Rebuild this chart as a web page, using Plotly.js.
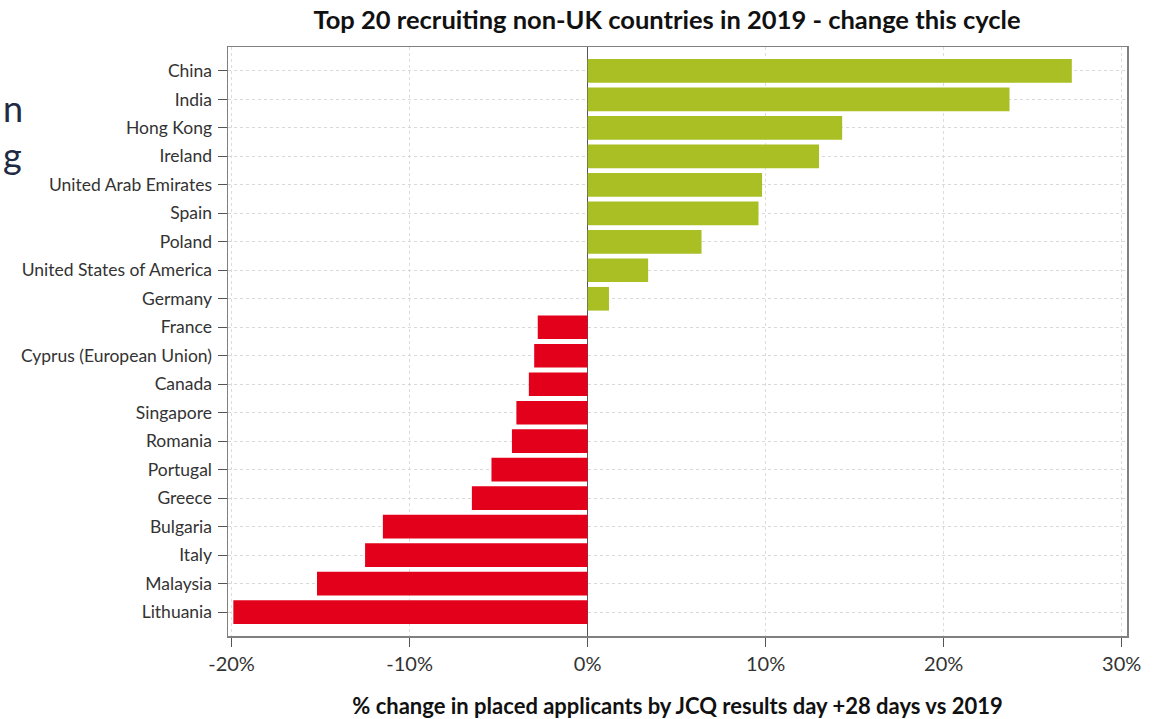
<!DOCTYPE html>
<html>
<head>
<meta charset="utf-8">
<script src="https://cdn.plot.ly/plotly-3.0.1.min.js"></script>
<style>html,body{margin:0;padding:0;background:#fff;}#chart{width:1158px;height:719px;}</style>
</head>
<body>
<div id="chart"></div>
<script>
const countries = ["China","India","Hong Kong","Ireland","United Arab Emirates","Spain","Poland","United States of America","Germany","France","Cyprus (European Union)","Canada","Singapore","Romania","Portugal","Greece","Bulgaria","Italy","Malaysia","Lithuania"];
const changePct = [27.2,23.7,14.3,13.0,9.8,9.6,6.4,3.4,1.2,-2.8,-3.0,-3.3,-4.0,-4.25,-5.4,-6.5,-11.5,-12.5,-15.2,-19.9];
const xTickVals = [-20,-10,0,10,20,30];
const xTickText = ["-20%","-10%","0%","10%","20%","30%"];

const GREEN = "#aabf24", RED = "#e2001a";
const FONT = "Lato, 'Open Sans', sans-serif";

const trace = {
  type: "bar", orientation: "h",
  x: changePct, y: countries,
  marker: {color: changePct.map(v => v >= 0 ? GREEN : RED), line: {width: 0}},
  width: 0.83,
  hoverinfo: "x+y"
};

const layout = {
  width: 1158, height: 719,
  margin: {l: 228, r: 31, t: 47, b: 83},
  paper_bgcolor: "#fff", plot_bgcolor: "#fff",
  font: {family: FONT, color: "#222", size: 14},
  showlegend: false,
  title: {text: "<b>Top 20 recruiting non-UK countries in 2019 - change this cycle</b>",
          font: {family: FONT, size: 25.5, color: "#111"}, x: 0.576, xanchor: "center", y: 0.972, yanchor: "middle"},
  xaxis: {
    range: [-20.2, 30.3], tickvals: xTickVals, ticktext: xTickText,
    ticks: "outside", ticklen: 9, tickcolor: "#555", tickfont: {size: 20, color: "#333"},
    showline: true, linecolor: "#808080", linewidth: 1.5, mirror: true,
    showgrid: true, gridcolor: "#dcdcdc", griddash: "dot", gridwidth: 1,
    zeroline: true, zerolinecolor: "#555", zerolinewidth: 1.5,
    title: {text: "<b>% change in placed applicants by JCQ results day +28 days vs 2019</b>",
            font: {family: FONT, size: 22, color: "#111"}, standoff: 25},
    fixedrange: true
  },
  yaxis: {
    type: "category", autorange: false, range: [19.84, -0.84],
    ticks: "outside", ticklen: 9, tickcolor: "#555", tickfont: {size: 17.5, color: "#333"},
    showline: true, linecolor: "#808080", linewidth: 1.5, mirror: true,
    showgrid: true, gridcolor: "#d9d9d9", griddash: "dot", gridwidth: 1,
    ticklabelstandoff: 2,
    fixedrange: true
  },
  annotations: [
    {text: "n", xref: "paper", yref: "paper", x: (1-228)/899, y: 1-(108-47)/589, xanchor: "left", yanchor: "middle",
     showarrow: false, font: {family: FONT, size: 36, color: "#1f2a44"}},
    {text: "g", xref: "paper", yref: "paper", x: (1-228)/899, y: 1-(155-47)/589, xanchor: "left", yanchor: "middle",
     showarrow: false, font: {family: FONT, size: 36, color: "#1f2a44"}}
  ]
};

Plotly.newPlot("chart", [trace], layout, {displayModeBar: false, staticPlot: true});
</script>
</body>
</html>
